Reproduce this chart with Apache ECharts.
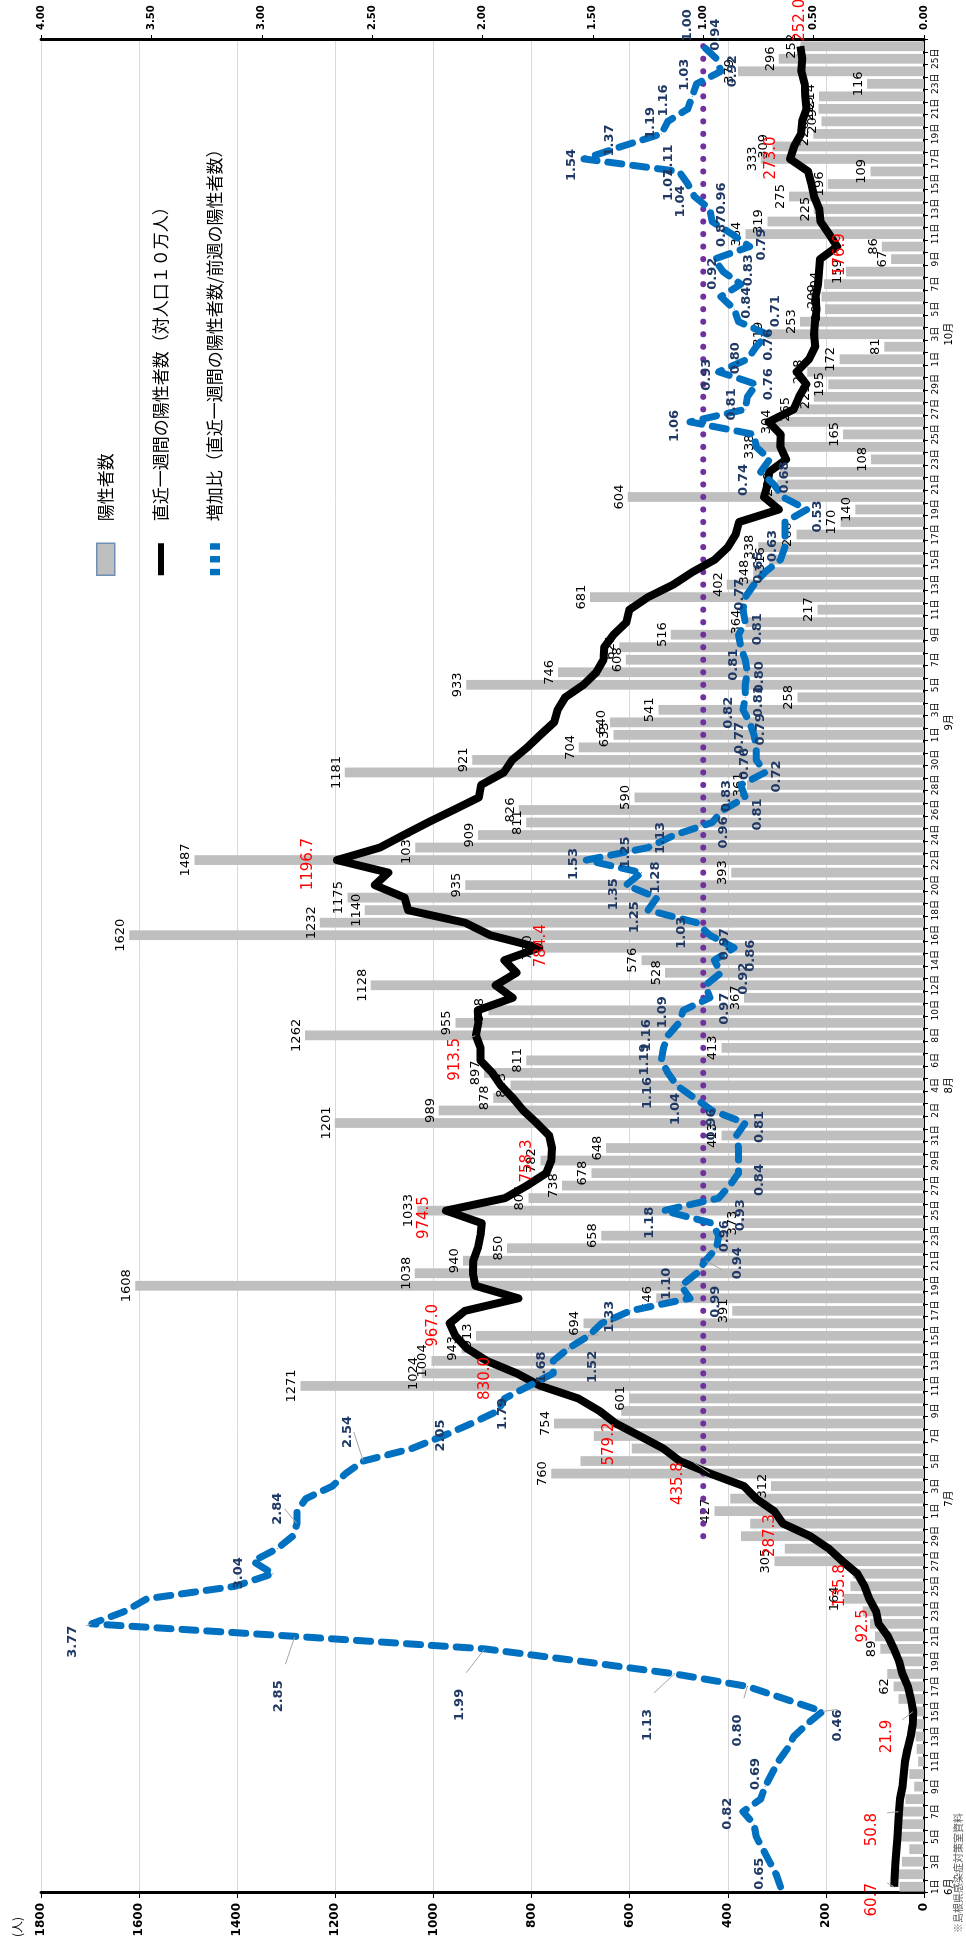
<!DOCTYPE html>
<html><head><meta charset="utf-8">
<script src="https://cdn.jsdelivr.net/npm/echarts@6/dist/echarts.min.js"></script>
<style>
html,body{margin:0;padding:0;background:#fff;}
body{width:966px;height:1942px;overflow:hidden;position:relative;}
#chart{position:absolute;left:0;top:0;width:1942px;height:966px;transform-origin:0 0;transform:translate(0,1942px) rotate(-90deg);}
</style></head><body><div id="chart"></div>
<script>
// ---- categories ----
const monthNames = ['6月','7月','8月','9月','10月'];
const monthNums = [6,7,8,9,10];
const monthLengths = [30,31,31,30,26];
const monthLabelIdx = [0,31,64,93,124];
const categories = [];
monthNums.forEach((m,k)=>{ for(let d=1; d<=monthLengths[k]; d++) categories.push(m+'/'+d); });

// ---- daily positives (bars) ----
const casesJun = [50,55,45,30,50,60,49,38,20,30,12,15,17,20,32,52,62,75,45,89,100,110,125,164,150,145,305,284,373,354];
const casesJul = [427,395,312,760,700,596,673,754,617,601,1271,1024,1004,943,913,694,391,546,1608,1038,940,850,658,373,1033,806,738,678,782,648,413];
const casesAug = [1201,989,878,843,897,811,413,1262,955,888,367,1128,528,576,790,1620,1232,1140,1175,935,393,1487,1037,909,811,826,590,361,1181,921,704];
const casesSep = [633,640,541,258,933,746,608,621,516,364,217,681,402,348,316,338,260,170,140,604,299,294,108,338,165,304,265,225,195,238];
const casesOct = [172,81,319,253,202,209,204,159,67,86,364,319,225,275,196,109,333,309,226,209,215,214,116,379,296,252];

// ---- weekly positives per 100k (black line) ----
const weeklyJun = [60.7,59.5,58.0,56.0,54.0,52.5,50.8,49.0,43.8,41.5,38.8,33.6,27.1,22.8,21.9,26.7,32.7,43.9,50.7,61.5,73.5,92.5,97.6,111.7,121.1,135.8,166.3,193.9,231.8,287.3];
const weeklyJul = [305.5,342.3,367.3,435.8,497.9,531.3,579.2,628.2,661.5,704.8,781.4,830.0,891.2,931.6,955.5,967.0,935.5,826.8,914.4,919.5,919.0,909.6,904.2,901.5,974.5,854.3,809.3,770.0,759.8,758.3,764.3];
const weeklyAug = [789.5,816.9,837.9,862.7,879.9,904.3,904.3,913.5,908.4,909.9,838.5,873.2,830.7,855.2,784.4,884.1,935.7,1051.6,1058.6,1119.6,1092.2,1196.7,1109.3,1060.9,1011.5,959.2,907.5,902.7,856.8,839.4,808.7];
const weeklySep = [782.0,754.1,746.8,731.3,694.2,667.9,653.5,651.7,633.1,606.6,600.4,562.7,511.1,472.1,426.4,399.7,384.1,377.1,296.0,326.2,318.9,315.6,281.1,292.8,292.1,316.6,265.8,254.7,239.9,259.4];
const weeklyOct = [234.5,221.9,224.1,222.3,218.9,221.0,215.9,213.9,211.8,176.9,193.6,211.1,213.5,224.1,229.7,236.0,273.0,264.8,250.8,248.4,239.4,242.1,243.2,250.1,248.1,252.0];

// ---- week-on-week ratio (blue dashed line) ----
const ratioJun = [0.65,0.67,0.70,0.73,0.76,0.77,0.82,0.74,0.72,0.69,0.66,0.62,0.59,0.53,0.46,0.63,0.80,1.13,1.55,1.99,2.85,3.77,3.62,3.52,3.12,2.95,3.04,2.93,2.86,2.84];
const ratioJul = [2.84,2.80,2.68,2.62,2.54,2.32,2.18,2.05,1.93,1.90,1.79,1.68,1.68,1.61,1.52,1.46,1.33,1.06,1.10,1.03,0.99,0.94,0.93,0.96,1.18,0.93,0.88,0.84,0.84,0.84,0.85];
const ratioAug = [0.81,0.96,1.04,1.12,1.16,1.19,1.18,1.16,1.11,1.09,0.97,0.99,0.92,0.95,0.86,0.97,1.03,1.25,1.21,1.35,1.28,1.53,1.25,1.13,0.96,0.91,0.81,0.83,0.72,0.76,0.76];
const ratioSep = [0.77,0.79,0.82,0.81,0.81,0.80,0.81,0.83,0.84,0.81,0.82,0.81,0.77,0.72,0.65,0.63,0.63,0.63,0.53,0.64,0.68,0.74,0.70,0.76,0.77,1.06,0.81,0.80,0.76,0.93];
const ratioOct = [0.80,0.76,0.71,0.84,0.86,0.92,0.83,0.91,0.95,0.79,0.87,0.96,0.97,1.04,1.07,1.11,1.54,1.37,1.19,1.16,1.07,1.05,1.03,0.92,0.94,1.00];

// ---- reference line 1.00 ----
const refValue = 1.00;
const refStartIdx = 28;

const cases = [].concat(casesJun,casesJul,casesAug,casesSep,casesOct);
const weekly = [].concat(weeklyJun,weeklyJul,weeklyAug,weeklySep,weeklyOct);
const ratio = [].concat(ratioJun,ratioJul,ratioAug,ratioSep,ratioOct);

// which points carry labels
const barLabelIdx = [16,19,23,26,30,32,33,37];
for (let i=39;i<=147;i++) if (i!==113) barLabelIdx.push(i);
const barLabelSet = new Set(barLabelIdx);
// [index, dx, dy] label offsets
const weeklyLabels = [[0,-13,-22],[6,-18,-27],[14,-25,-26],[21,-2,-16],[25,-12,-17],[29,-12,-13],[33,-10,-32],[36,-8,-31],[41,-5,-32],[45,-2,-17],[54,-7,-22],[59,-13,-25],[68,-24,-21],[75,2,2],[82,-4,-29],[131,-8,3],[138,1,-19],[147,26,0]];
const ratioLabels = [[0,13,-21],[6,-2,-15],[9,0,-16],[14,-14,15],[16,-44,-10],[17,-51,-27],[19,-56,-25],[20,-60,-16],[21,-18,-19],[26,-12,-14],[29,15,-19],[34,29,-16],[37,-12,-31],[40,-28,-26],[41,6,-12],[44,-31,4],[46,-6,-21],[48,2,-15],[50,-41,10],[51,-15,21],[53,-13,13],[54,-12,-14],[55,-17,22],[57,-7,21],[61,-4,14],[62,-14,0],[63,-11,-19],[65,-20,-20],[66,1,-17],[68,0,-21],[70,-2,-21],[71,-11,15],[73,-6,23],[75,-8,16],[76,-9,15],[77,-10,-15],[78,-7,-13],[80,-9,-12],[81,-5,14],[82,-4,-13],[83,-5,-22],[84,-3,-14],[85,-10,12],[87,-17,12],[88,-11,-14],[89,-4,12],[90,-4,-12],[92,-3,-14],[93,-7,11],[94,-3,-14],[95,-4,13],[97,-5,12],[98,-5,-12],[101,-7,12],[104,-10,-14],[106,-8,-22],[107,1,-12],[110,-7,11],[112,7,11],[113,-8,-17],[117,-4,-15],[118,5,-14],[120,0,12],[121,-3,-12],[122,1,-12],[123,2,12],[124,23,8],[125,19,8],[127,23,-8],[128,14,8],[131,2,12],[132,3,-10],[133,23,10],[135,-5,-14],[136,-1,-19],[137,11,-10],[138,-6,-12],[139,6,-12],[140,11,-11],[141,21,-4],[144,9,-12],[145,0,12],[146,24,-1],[147,21,-16]];
// labels drawn with a thin leader line
const weeklyLeaders = [0,6,14,33,68];
const ratioLeaders = [14,16,17,19,20,21,29,34,44,50];

const LEG_BAR = '陽性者数';
const LEG_WEEK = '直近一週間の陽性者数（対人口１０万人）';
const LEG_RATIO = '増加比（直近一週間の陽性者数/前週の陽性者数）';

function withLabels(arr, list, leaders){
  const m = new Map(list.map(a=>[a[0],a]));
  const ld = new Set(leaders);
  return arr.map((v,i)=>{
    const a = m.get(i);
    if (!a) return {value:v};
    const item = {value:v, label:{show:true, position:'inside', offset:[a[1],a[2]]}};
    if (ld.has(i)) item.labelLine = {show:true, lineStyle:{color:'#A6A6A6', width:1}};
    return item;
  });
}

const chart = echarts.init(document.getElementById('chart'), null, {renderer:'canvas'});
const option = {
  animation:false,
  backgroundColor:'#fff',
  textStyle:{fontFamily:'DejaVu Sans, Noto Sans CJK JP'},
  grid:{left:49, right:40, top:41, bottom:42, containLabel:false},
  legend:{
    orient:'vertical', left:1361, top:91, itemWidth:32, itemHeight:18, itemGap:37,
    textStyle:{fontSize:17, color:'#000', fontFamily:'Noto Sans CJK JP', padding:[0,0,0,17]},
    data:[
      {name:LEG_BAR, icon:'rect', itemStyle:{color:'#BFBFBF', borderColor:'#6F8FB5', borderWidth:1.5}},
      {name:LEG_WEEK, icon:'path://M0,0 L31,0 L31,6 L0,6 Z', itemStyle:{color:'#000'}},
      {name:LEG_RATIO, icon:'path://M0,0 h5 v8 h-5 Z M10,0 h5 v8 h-5 Z M20,0 h5 v8 h-5 Z', itemStyle:{color:'#0070C0'}}
    ]
  },
  xAxis:[{
    type:'category', data:categories, position:'bottom', boundaryGap:true,
    axisLine:{lineStyle:{color:'#000', width:2}},
    axisTick:{show:true, interval:0, length:4, lineStyle:{color:'#000'}},
    axisLabel:{interval:1, fontSize:9, color:'#000', margin:7, formatter:v=>v.split('/')[1]+'日'},
    splitLine:{show:false}
  },{
    type:'category', data:categories, position:'bottom', offset:14, boundaryGap:true,
    axisLine:{show:false}, axisTick:{show:false},
    axisLabel:{interval:0, fontSize:10, color:'#000', margin:6,
      formatter:(v,i)=>{const k=monthLabelIdx.indexOf(i); return k>=0?monthNames[k]:'';}}
  }],
  yAxis:[{
    type:'value', min:0, max:1800, interval:200, position:'left',
    axisLine:{show:true, lineStyle:{color:'#000', width:3}},
    axisTick:{show:true, length:5, lineStyle:{color:'#000'}},
    axisLabel:{fontSize:12, fontWeight:'bold', color:'#000', margin:10, formatter:v=>String(v)},
    splitLine:{show:true, lineStyle:{color:'#D9D9D9', width:1}}
  },{
    type:'value', min:0, max:4, interval:0.5, position:'right',
    axisLine:{show:true, lineStyle:{color:'#000', width:3}},
    axisTick:{show:true, length:5, lineStyle:{color:'#000'}},
    axisLabel:{fontSize:10, fontWeight:'bold', color:'#000', margin:10, formatter:v=>v.toFixed(2)},
    splitLine:{show:false}
  }],
  graphic:[
    {type:'text', left:5, top:11, style:{text:'(人)', fontSize:12, fill:'#000', fontFamily:'Noto Sans CJK JP'}},
    {type:'text', left:9, top:953, style:{text:'※島根県感染症対策室資料', fontSize:10, fill:'#595959', fontFamily:'Noto Sans CJK JP'}}
  ],
  series:[
    {
      name:LEG_BAR, type:'bar', xAxisIndex:0, yAxisIndex:0, z:2,
      barCategoryGap:'22%',
      itemStyle:{color:'#BFBFBF'},
      label:{show:false, position:'top', distance:2, fontSize:13, color:'#000'},
      data:cases.map((v,i)=>({value:v, label:{show:barLabelSet.has(i)}}))
    },
    {
      name:'基準', type:'line', xAxisIndex:0, yAxisIndex:1, z:3, silent:true,
      symbol:'circle', symbolSize:6, showSymbol:true, showAllSymbol:true,
      itemStyle:{color:'#7030A0'}, lineStyle:{width:0, opacity:0},
      data:categories.map((c,i)=> i>=refStartIdx ? refValue : '-')
    },
    {
      name:LEG_WEEK, type:'line', xAxisIndex:0, yAxisIndex:0, z:4,
      symbol:'circle', symbolSize:1, showSymbol:true, showAllSymbol:true,
      itemStyle:{color:'#000'}, lineStyle:{color:'#000', width:8, join:'round'},
      label:{show:false, color:'#FF0000', fontSize:15, formatter:p=>Number(p.value).toFixed(1)},
      labelLine:{show:false, lineStyle:{color:'#A6A6A6', width:1}},
      data:withLabels(weekly, weeklyLabels, weeklyLeaders)
    },
    {
      name:LEG_RATIO, type:'line', xAxisIndex:0, yAxisIndex:1, z:5,
      symbol:'circle', symbolSize:1, showSymbol:true, showAllSymbol:true,
      itemStyle:{color:'#0070C0'}, lineStyle:{color:'#0070C0', width:7, type:[14,11], cap:'round', join:'round'},
      label:{show:false, color:'#1F3864', fontSize:13, fontWeight:'bold', formatter:p=>Number(p.value).toFixed(2)},
      labelLine:{show:false, lineStyle:{color:'#A6A6A6', width:1}},
      data:withLabels(ratio, ratioLabels, ratioLeaders)
    }
  ]
};
chart.setOption(option);
</script></body></html>
